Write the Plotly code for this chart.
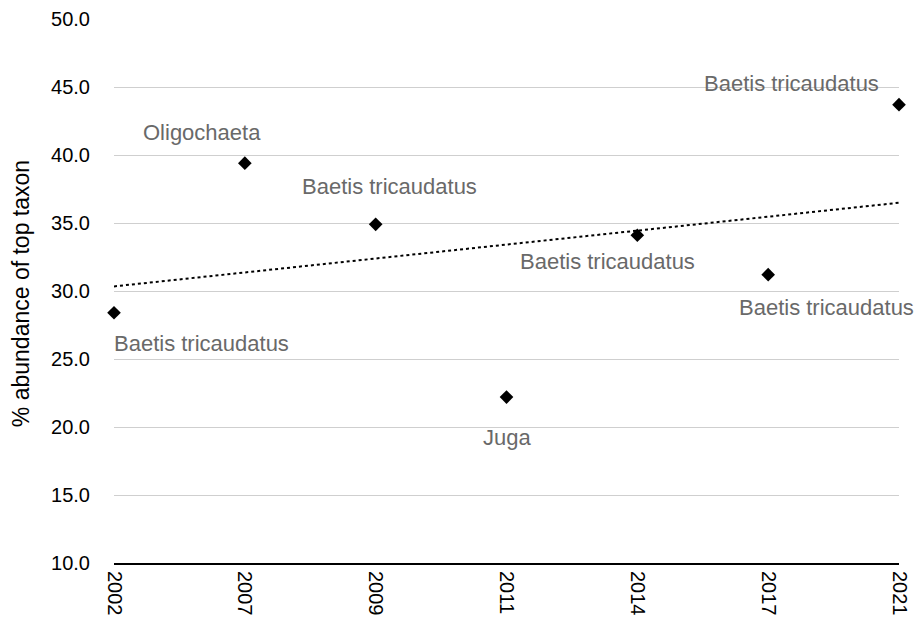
import numpy as np
import plotly.graph_objects as go

# Survey years and the share (%) of the most abundant taxon in each sample
years = ["2002", "2007", "2009", "2011", "2014", "2017", "2021"]
top_pct = [28.4, 39.4, 34.9, 22.2, 34.1, 31.2, 43.7]
top_taxon = ["Baetis tricaudatus", "Oligochaeta", "Baetis tricaudatus", "Juga",
             "Baetis tricaudatus", "Baetis tricaudatus", "Baetis tricaudatus"]

# label offsets (pixels) relative to each point
label_dx = [87, -43, 14, 0, -30, 58, -108]
label_dy = [-31, 31, 38, -40, -26, -33, 21]

FONT = "Liberation Sans, Arial, Helvetica, sans-serif"

# linear trend fitted over the evenly spaced survey positions
idx = np.arange(len(years))
slope, intercept = np.polyfit(idx, top_pct, 1)
trend = slope * idx + intercept

fig = go.Figure()
fig.add_trace(go.Scatter(
    x=years, y=trend, mode="lines",
    line=dict(color="black", width=2, dash="dot"),
    hoverinfo="skip", cliponaxis=False,
))
fig.add_trace(go.Scatter(
    x=years, y=top_pct, mode="markers",
    marker=dict(symbol="diamond", size=10.5, color="black"),
    cliponaxis=False,
))

# taxon name beside each point (category axis: position by index)
for i, (v, name, dx, dy) in enumerate(zip(top_pct, top_taxon, label_dx, label_dy)):
    fig.add_annotation(
        x=i, y=v, text=name, showarrow=False,
        xshift=dx, yshift=dy, xanchor="center", yanchor="middle",
        font=dict(family=FONT, size=22, color="#696969"),
    )

# vertical axis title
fig.add_annotation(
    x=-0.1185, y=0.496, xref="paper", yref="paper",
    text="% abundance of top taxon", textangle=-90, showarrow=False,
    xanchor="center", yanchor="middle",
    font=dict(family=FONT, size=23, color="black"),
)

fig.update_layout(
    width=917, height=625,
    margin=dict(l=114, r=18, t=19, b=62),
    paper_bgcolor="white", plot_bgcolor="white",
    showlegend=False,
    font=dict(family=FONT, size=20, color="black"),
)
fig.update_xaxes(
    type="category", range=[0, len(years) - 1], automargin=False,
    tickangle=90, showgrid=False, zeroline=False,
    showline=True, linecolor="black", linewidth=2,
    ticks="", ticklabelstandoff=2, tickfont=dict(size=20, color="black"),
)
fig.update_yaxes(
    range=[10, 50], dtick=5, tickformat=".1f", automargin=False,
    showgrid=True, gridcolor="#cfcfcf", gridwidth=1,
    zeroline=False, showline=False, ticks="",
    ticklabelstandoff=23,
    tickfont=dict(size=20, color="black"),
)

fig.write_html("out.html")
